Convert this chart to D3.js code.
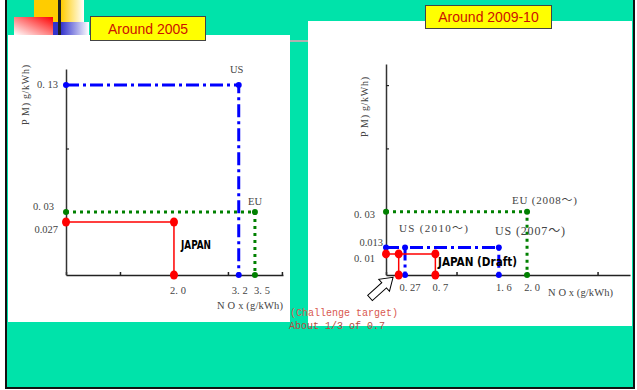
<!DOCTYPE html>
<html>
<head>
<meta charset="utf-8">
<script src="https://cdn.jsdelivr.net/npm/d3@7"></script>
<style>
  body { margin: 0; background: #fff; }
  .lbl { font-family: "Liberation Serif", "Noto Sans CJK JP", serif; fill: #444; }
  .jp { font-family: "DejaVu Sans Condensed", "DejaVu Sans", sans-serif; font-weight: bold; fill: #000; }
  .ch { font-family: "Liberation Mono", "DejaVu Sans Mono", monospace; }
  .title { font-family: "Liberation Sans", Arial, sans-serif; font-size: 14px; fill: #cc1100; }
</style>
</head>
<body>
<div id="chart"></div>
<script>
// ---- data ----
// left panel (around 2005)
const leftXTicks = [0, 1, 2, 3, 4];
const leftYTicks = [0.03, 0.08, 0.13];
const leftXLabels = [[2.0, "2. 0"], [3.2, "3. 2"], [3.5, "3. 5"]];
const leftYLabels = [[0.13, "0. 13"], [0.03, "0. 03"], [0.027, "0.027"]];
const usLeft = [[0, 0.13], [3.2, 0.13], [3.2, 0]];
const euLeft = [[0, 0.03], [3.5, 0.03], [3.5, 0]];
const japanLeft = [[0, 0.027], [2.0, 0.027], [2.0, 0]];

// right panel (around 2009-10)
const rightXTicks = [0, 1, 2, 3];
const rightYTicks = [0.03, 0.06, 0.09];
const rightXLabels = [[0.27, "0. 27"], [0.7, "0. 7"], [1.6, "1. 6"], [2.0, "2. 0"]];
const rightYLabels = [[0.03, "0. 03"], [0.013, "0.013"], [0.01, "0. 01"]];
const euRight = [[0, 0.03], [2.0, 0.03], [2.0, 0]];
const us2007 = [[0, 0.013], [1.6, 0.013], [1.6, 0]];
const us2010 = [[0.27, 0.013], [0.27, 0]];
const japanDraft = [[0, 0.01], [0.7, 0.01], [0.7, 0]];
const challenge = [[0.18, 0.01], [0.18, 0]];

const W = 637, H = 390;
const svg = d3.select("#chart").append("svg")
  .attr("width", W).attr("height", H);

const defs = svg.append("defs");
const g1 = defs.append("linearGradient").attr("id", "gy");
g1.append("stop").attr("offset", 0).attr("stop-color", "#ffcc00");
g1.append("stop").attr("offset", 1).attr("stop-color", "#ffffff");
const g2 = defs.append("linearGradient").attr("id", "gr")
  .attr("x1", 0).attr("y1", 1).attr("x2", 1).attr("y2", 0);
g2.append("stop").attr("offset", 0).attr("stop-color", "#ffffff");
g2.append("stop").attr("offset", 1).attr("stop-color", "#ff0000");
const g3 = defs.append("linearGradient").attr("id", "gb");
g3.append("stop").attr("offset", 0).attr("stop-color", "#3333cc");
g3.append("stop").attr("offset", 1).attr("stop-color", "#ffffff");

// slide background
svg.append("rect").attr("x", 7).attr("y", 0).attr("width", 627).attr("height", 387).attr("fill", "#00e3aa");
svg.append("rect").attr("x", 5).attr("y", 0).attr("width", 2).attr("height", 389).attr("fill", "#111");
svg.append("rect").attr("x", 633).attr("y", 0).attr("width", 2).attr("height", 389).attr("fill", "#111");
svg.append("rect").attr("x", 5).attr("y", 387).attr("width", 630).attr("height", 2).attr("fill", "#111");

// decoration top-left
svg.append("rect").attr("x", 34).attr("y", 0).attr("width", 24).attr("height", 22).attr("fill", "#ffcc00");
svg.append("rect").attr("x", 61).attr("y", 0).attr("width", 23).attr("height", 22).attr("fill", "url(#gy)");
svg.append("rect").attr("x", 14).attr("y", 17).attr("width", 39).attr("height", 18).attr("fill", "url(#gr)");
svg.append("rect").attr("x", 53).attr("y", 22).attr("width", 8).attr("height", 13).attr("fill", "#3333cc");
svg.append("rect").attr("x", 61).attr("y", 22).attr("width", 28).attr("height", 13).attr("fill", "url(#gb)");
svg.append("rect").attr("x", 58).attr("y", 0).attr("width", 3).attr("height", 35).attr("fill", "#222");

// white panels
svg.append("rect").attr("x", 8).attr("y", 35).attr("width", 282).attr("height", 287).attr("fill", "#fff");
svg.append("rect").attr("x", 290).attr("y", 40).attr("width", 18).attr("height", 2).attr("fill", "#b0b0b0");
svg.append("rect").attr("x", 308).attr("y", 21).attr("width", 324).attr("height", 305).attr("fill", "#fff");

// titles
function titleBox(x, y, w, h, txt) {
  svg.append("rect").attr("x", x).attr("y", y).attr("width", w).attr("height", h)
    .attr("fill", "#ffff00").attr("stroke", "#444").attr("stroke-width", 1);
  svg.append("text").attr("class", "title").attr("x", x + w / 2).attr("y", y + h / 2 + 5)
    .attr("text-anchor", "middle").text(txt);
}
titleBox(90.5, 16.5, 115, 24, "Around 2005");
titleBox(425.5, 5.5, 126, 23, "Around 2009-10");

const line = (sx, sy) => d3.line().x(d => sx(d[0])).y(d => sy(d[1]));
const styles = {
  us: { color: "#0000ff", width: 3, dash: "13,4,3,4", r: 3 },
  eu: { color: "#008000", width: 3, dash: "3,4", r: 3 },
  jp: { color: "#ff0000", width: 1.5, dash: null, r: 4 }
};

function series(g, sx, sy, pts, st) {
  g.append("path").datum(pts)
    .attr("d", line(sx, sy))
    .attr("fill", "none")
    .attr("stroke", st.color)
    .attr("stroke-width", st.width)
    .attr("stroke-dasharray", st.dash);
  g.selectAll(null).data(pts).join("ellipse")
    .attr("cx", d => sx(d[0])).attr("cy", d => sy(d[1]))
    .attr("rx", st.r).attr("ry", st.r + (st === styles.jp ? 0.5 : 0))
    .attr("fill", st.color);
}

function axes(g, sx, sy, xt, yt) {
  g.append("g")
    .attr("transform", `translate(0,${sy(0)})`)
    .call(d3.axisBottom(sx).tickValues(xt).tickSize(-3).tickSizeOuter(0).tickFormat(""))
    .call(a => a.select(".domain").attr("stroke", "#222").attr("stroke-width", 1.5))
    .call(a => a.selectAll(".tick line").attr("stroke", "#222").attr("stroke-width", 1.5));
  g.append("g")
    .attr("transform", `translate(${sx(0)},0)`)
    .call(d3.axisLeft(sy).tickValues(yt).tickSize(-3).tickSizeOuter(0).tickFormat(""))
    .call(a => a.select(".domain").attr("stroke", "#333").attr("stroke-width", 1.5))
    .call(a => a.selectAll(".tick line").attr("stroke", "#222").attr("stroke-width", 1.2));
}

function text(x, y, t, size, anchor, cls) {
  return svg.append("text").attr("class", cls || "lbl")
    .attr("x", x).attr("y", y)
    .attr("font-size", size)
    .attr("text-anchor", anchor || "start")
    .text(t);
}

// ---- left chart ----
const xL = d3.scaleLinear().domain([0, 4.02]).range([66, 283]);
const yL = d3.scaleLinear().domain([0, 0.027, 0.03, 0.13, 0.1426]).range([275, 222, 212, 85, 69]);
const gl = svg.append("g");
axes(gl, xL, yL, leftXTicks, leftYTicks);
series(gl, xL, yL, usLeft, styles.us);
series(gl, xL, yL, euLeft, styles.eu);
series(gl, xL, yL, japanLeft, styles.jp);

const lxOff = [4, 1, 7];
leftXLabels.forEach(([v, t], i) => text(xL(v) + lxOff[i], 294, t, 10.5, "middle").attr("textLength", 16));
const lyOff = { "0. 13": [58, 88], "0. 03": [54, 210], "0.027": [58, 233] };
leftYLabels.forEach(([v, t]) => text(lyOff[t][0], lyOff[t][1], t, 10.5, "end"));
text(283, 309, "N O x (g/kWh)", 10.5, "end").attr("textLength", 66);
svg.append("text").attr("class", "lbl").attr("font-size", 10)
  .attr("transform", "translate(29,95) rotate(-90)")
  .attr("text-anchor", "middle").attr("textLength", 60).text("P M)  g/kWh)");
text(230, 73, "US", 10.5);
text(248, 205, "EU", 10.5);
text(181, 249, "JAPAN", 12, "start", "jp").attr("textLength", 30).attr("lengthAdjust", "spacingAndGlyphs");

// ---- right chart ----
const xR = d3.scaleLinear().domain([0, 3.46]).range([386, 630]);
const yR = d3.scaleLinear().domain([0, 0.1]).range([275, 64]);
const gr = svg.append("g");
axes(gr, xR, yR, rightXTicks, rightYTicks);
series(gr, xR, yR, euRight, styles.eu);
series(gr, xR, yR, us2007, styles.us);
series(gr, xR, yR, us2010, styles.us);
series(gr, xR, yR, japanDraft, styles.jp);
series(gr, xR, yR, challenge, styles.jp);

rightXLabels.forEach(([v, t]) => text(xR(v) + 5, 291, t, 10.5, "middle"));
const ryOff = { "0. 03": [375, 218], "0.013": [383, 246], "0. 01": [375, 262] };
rightYLabels.forEach(([v, t]) => text(ryOff[t][0], ryOff[t][1], t, 10.5, "end"));
text(613, 296, "N O x (g/kWh)", 10.5, "end").attr("textLength", 65);
svg.append("text").attr("class", "lbl").attr("font-size", 10)
  .attr("transform", "translate(368,107) rotate(-90)")
  .attr("text-anchor", "middle").attr("textLength", 60).text("P M)  g/kWh)");
text(512, 204, "EU (2008～)", 11).attr("textLength", 65);
text(399, 232, "US  (2010～)", 11).attr("textLength", 69);
text(495, 235, "US (2007～)", 12).attr("textLength", 70);
text(438, 266, "JAPAN (Draft)", 12, "start", "jp").attr("textLength", 79).attr("lengthAdjust", "spacingAndGlyphs");

// hollow arrow pointing at the challenge target
svg.append("polygon")
  .attr("points", "0,-3.5 19,-3.5 19,-8 31,0 19,8 19,3.5 0,3.5")
  .attr("transform", "translate(370,298) rotate(-42)")
  .attr("fill", "#fff").attr("stroke", "#000").attr("stroke-width", 1);

text(290, 316, "(Challenge target)", 10, "start", "ch").style("fill", "#d9584f");
text(289, 329, "About 1/3 of 0.7", 10, "start", "ch").style("fill", "#b84a40");
</script>
</body>
</html>
